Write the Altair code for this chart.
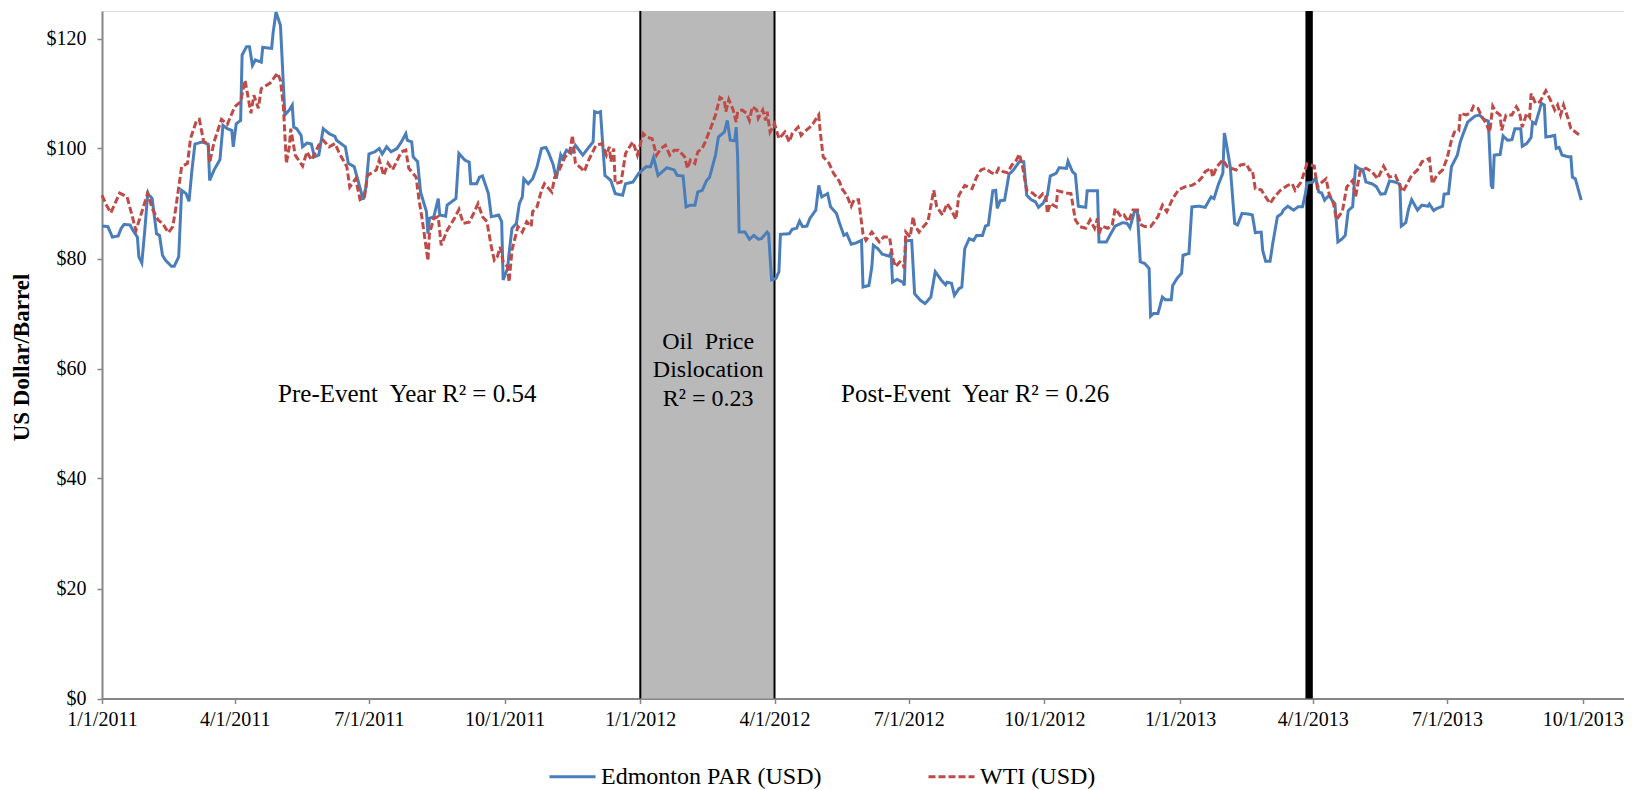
import altair as alt
import pandas as pd

FONT = "Liberation Serif"
SERIES = ["Edmonton PAR (USD)", "WTI (USD)"]
COLORS = ["#4A7EBB", "#BE4B48"]

# (date, US$/barrel)
EDMONTON = [
    ("2011-01-01", 85.9), ("2011-01-05", 85.8), ("2011-01-08", 83.9), ("2011-01-12", 84.1), ("2011-01-14", 85.5),
    ("2011-01-16", 86.2), ("2011-01-20", 86.1), ("2011-01-22", 85.1), ("2011-01-25", 83.9), ("2011-01-26", 80.3),
    ("2011-01-28", 79.2), ("2011-01-30", 85.1), ("2011-02-01", 91.8), ("2011-02-04", 90.9), ("2011-02-07", 84.5),
    ("2011-02-09", 84.2), ("2011-02-11", 80.6), ("2011-02-13", 79.7), ("2011-02-17", 78.6), ("2011-02-19", 78.6),
    ("2011-02-22", 80.3), ("2011-02-24", 92.4), ("2011-02-27", 91.8), ("2011-03-01", 90.4), ("2011-03-03", 96.1),
    ("2011-03-05", 100.8), ("2011-03-10", 101.2), ("2011-03-14", 100.8), ("2011-03-15", 94.2), ("2011-03-18", 96.1),
    ("2011-03-22", 98.0), ("2011-03-24", 104.2), ("2011-03-27", 103.6), ("2011-03-30", 103.3), ("2011-03-31", 100.3),
    ("2011-04-02", 104.5), ("2011-04-05", 105.1), ("2011-04-06", 117.0), ("2011-04-09", 118.5), ("2011-04-11", 118.5),
    ("2011-04-13", 115.1), ("2011-04-15", 116.1), ("2011-04-19", 115.7), ("2011-04-20", 118.4), ("2011-04-26", 118.2),
    ("2011-04-27", 121.0), ("2011-04-29", 124.8), ("2011-05-02", 122.4), ("2011-05-05", 106.1), ("2011-05-08", 107.0),
    ("2011-05-10", 107.9), ("2011-05-11", 103.9), ("2011-05-13", 103.6), ("2011-05-16", 102.4), ("2011-05-17", 100.3),
    ("2011-05-20", 101.0), ("2011-05-23", 100.8), ("2011-05-25", 98.5), ("2011-05-28", 98.8), ("2011-05-31", 103.6),
    ("2011-06-04", 102.7), ("2011-06-08", 102.2), ("2011-06-09", 101.5), ("2011-06-12", 100.9), ("2011-06-15", 100.3),
    ("2011-06-17", 97.3), ("2011-06-21", 96.7), ("2011-06-26", 91.8), ("2011-06-27", 90.7), ("2011-06-29", 93.0),
    ("2011-07-01", 99.0), ("2011-07-05", 99.4), ("2011-07-08", 100.0), ("2011-07-10", 99.0), ("2011-07-13", 100.3),
    ("2011-07-16", 99.4), ("2011-07-20", 100.0), ("2011-07-23", 101.2), ("2011-07-26", 102.7), ("2011-07-27", 101.5),
    ("2011-07-30", 101.2), ("2011-07-31", 98.5), ("2011-08-03", 97.6), ("2011-08-05", 92.1), ("2011-08-09", 88.5),
    ("2011-08-10", 84.5), ("2011-08-11", 87.3), ("2011-08-14", 87.6), ("2011-08-17", 90.9), ("2011-08-18", 87.9),
    ("2011-08-22", 87.7), ("2011-08-23", 89.7), ("2011-08-29", 90.9), ("2011-08-31", 99.1), ("2011-09-04", 97.9),
    ("2011-09-07", 97.5), ("2011-09-08", 93.6), ("2011-09-12", 93.6), ("2011-09-14", 94.8), ("2011-09-16", 95.0),
    ("2011-09-20", 91.8), ("2011-09-22", 87.6), ("2011-09-27", 87.9), ("2011-09-29", 86.7), ("2011-09-30", 76.1),
    ("2011-10-03", 78.2), ("2011-10-04", 80.9), ("2011-10-06", 85.5), ("2011-10-09", 86.4), ("2011-10-11", 90.0),
    ("2011-10-13", 91.2), ("2011-10-14", 94.5), ("2011-10-17", 93.6), ("2011-10-20", 94.5), ("2011-10-23", 96.7),
    ("2011-10-26", 100.0), ("2011-10-29", 100.2), ("2011-10-31", 99.1), ("2011-11-03", 97.0), ("2011-11-05", 94.5),
    ("2011-11-08", 98.8), ("2011-11-09", 98.2), ("2011-11-12", 99.7), ("2011-11-15", 99.1), ("2011-11-18", 100.6),
    ("2011-11-23", 98.8), ("2011-11-27", 100.2), ("2011-11-30", 101.2), ("2011-12-01", 106.7), ("2011-12-03", 106.5),
    ("2011-12-05", 106.7), ("2011-12-08", 95.1), ("2011-12-12", 94.2), ("2011-12-15", 91.8), ("2011-12-20", 91.5),
    ("2011-12-22", 93.6), ("2011-12-27", 93.9), ("2011-12-31", 95.5),
    ("2012-01-05", 96.7), ("2012-01-08", 96.7), ("2012-01-10", 98.4), ("2012-01-13", 95.1), ("2012-01-19", 96.5),
    ("2012-01-24", 96.1), ("2012-01-26", 95.1), ("2012-01-30", 95.0), ("2012-02-01", 89.4), ("2012-02-04", 89.7),
    ("2012-02-07", 89.7), ("2012-02-09", 92.1), ("2012-02-12", 92.4), ("2012-02-15", 94.2), ("2012-02-17", 94.8),
    ("2012-02-21", 98.8), ("2012-02-23", 102.1), ("2012-02-27", 103.0), ("2012-02-29", 105.1), ("2012-03-02", 101.5),
    ("2012-03-05", 101.4), ("2012-03-06", 103.9), ("2012-03-07", 98.5), ("2012-03-08", 84.8), ("2012-03-12", 84.8),
    ("2012-03-15", 83.5), ("2012-03-18", 84.2), ("2012-03-21", 83.5), ("2012-03-23", 83.6), ("2012-03-27", 84.8),
    ("2012-03-28", 84.5), ("2012-03-30", 76.1), ("2012-04-02", 76.4), ("2012-04-04", 77.6), ("2012-04-05", 84.4),
    ("2012-04-11", 84.5), ("2012-04-13", 85.3), ("2012-04-16", 85.5), ("2012-04-18", 86.8), ("2012-04-20", 85.8),
    ("2012-04-23", 85.9), ("2012-04-25", 87.3), ("2012-04-29", 88.8), ("2012-05-01", 93.3), ("2012-05-03", 91.2),
    ("2012-05-07", 91.8), ("2012-05-09", 89.4), ("2012-05-13", 88.2), ("2012-05-15", 86.5), ("2012-05-18", 84.2),
    ("2012-05-20", 84.5), ("2012-05-23", 82.6), ("2012-05-26", 82.8), ("2012-05-30", 83.3), ("2012-05-31", 74.8),
    ("2012-06-04", 75.1), ("2012-06-06", 78.5), ("2012-06-07", 82.4), ("2012-06-10", 81.8), ("2012-06-13", 80.8),
    ("2012-06-18", 80.4), ("2012-06-19", 81.2), ("2012-06-20", 75.7), ("2012-06-23", 76.2), ("2012-06-27", 75.7),
    ("2012-06-28", 75.1), ("2012-06-29", 83.2), ("2012-07-03", 83.3), ("2012-07-05", 73.6), ("2012-07-09", 72.4),
    ("2012-07-12", 71.8), ("2012-07-16", 73.0), ("2012-07-19", 77.6), ("2012-07-23", 76.1), ("2012-07-26", 75.2),
    ("2012-07-27", 75.7), ("2012-07-30", 75.5), ("2012-08-01", 73.3), ("2012-08-04", 74.5), ("2012-08-06", 74.8),
    ("2012-08-08", 81.8), ("2012-08-11", 83.6), ("2012-08-14", 83.3), ("2012-08-16", 84.2), ("2012-08-20", 84.2),
    ("2012-08-22", 85.9), ("2012-08-24", 86.1), ("2012-08-27", 92.3), ("2012-08-29", 92.4), ("2012-08-30", 89.1),
    ("2012-09-01", 90.5), ("2012-09-04", 90.6), ("2012-09-07", 95.3), ("2012-09-10", 96.1), ("2012-09-14", 97.6),
    ("2012-09-17", 97.6), ("2012-09-19", 91.5), ("2012-09-22", 90.7), ("2012-09-25", 90.3), ("2012-09-27", 89.3),
    ("2012-09-30", 90.0), ("2012-10-03", 91.5), ("2012-10-05", 95.0), ("2012-10-09", 95.5), ("2012-10-11", 96.5),
    ("2012-10-16", 96.4), ("2012-10-17", 97.7), ("2012-10-20", 95.8), ("2012-10-22", 95.3), ("2012-10-24", 89.5),
    ("2012-10-29", 89.3), ("2012-10-30", 92.3), ("2012-11-06", 92.3), ("2012-11-07", 83.0), ("2012-11-12", 83.0),
    ("2012-11-15", 84.5), ("2012-11-18", 85.9), ("2012-11-23", 86.5), ("2012-11-26", 86.4), ("2012-11-28", 85.6),
    ("2012-12-01", 88.5), ("2012-12-03", 88.7), ("2012-12-05", 79.4), ("2012-12-08", 79.1), ("2012-12-11", 78.2),
    ("2012-12-12", 69.5), ("2012-12-14", 70.0), ("2012-12-17", 70.0), ("2012-12-20", 73.0), ("2012-12-22", 72.5),
    ("2012-12-26", 72.5), ("2012-12-27", 75.1), ("2012-12-30", 76.4),
    ("2013-01-02", 77.3), ("2013-01-03", 80.6), ("2013-01-07", 80.9), ("2013-01-09", 89.4), ("2013-01-14", 89.5),
    ("2013-01-18", 89.3), ("2013-01-22", 91.2), ("2013-01-24", 90.9), ("2013-01-27", 93.5), ("2013-01-30", 95.5),
    ("2013-01-31", 102.8), ("2013-02-01", 101.5), ("2013-02-04", 96.7), ("2013-02-07", 86.4), ("2013-02-09", 86.1),
    ("2013-02-12", 88.2), ("2013-02-16", 88.1), ("2013-02-19", 87.9), ("2013-02-21", 84.7), ("2013-02-25", 84.8),
    ("2013-02-26", 81.5), ("2013-02-28", 79.5), ("2013-03-03", 79.5), ("2013-03-05", 83.0), ("2013-03-08", 87.6),
    ("2013-03-11", 88.2), ("2013-03-12", 88.8), ("2013-03-15", 89.5), ("2013-03-19", 88.8), ("2013-03-22", 89.4),
    ("2013-03-25", 89.4), ("2013-03-27", 91.8), ("2013-03-28", 93.7), ("2013-04-01", 93.9), ("2013-04-03", 94.7),
    ("2013-04-05", 92.1), ("2013-04-07", 91.9), ("2013-04-09", 90.6), ("2013-04-12", 91.5), ("2013-04-14", 90.6),
    ("2013-04-16", 90.0), ("2013-04-18", 83.0), ("2013-04-21", 83.6), ("2013-04-23", 84.2), ("2013-04-25", 88.7),
    ("2013-04-28", 89.4), ("2013-04-30", 96.8), ("2013-05-02", 96.4), ("2013-05-05", 96.1), ("2013-05-07", 93.9),
    ("2013-05-11", 93.6), ("2013-05-14", 93.1), ("2013-05-17", 91.7), ("2013-05-20", 91.8), ("2013-05-23", 94.1),
    ("2013-05-27", 93.9), ("2013-05-30", 93.5), ("2013-05-31", 85.9), ("2013-06-03", 86.5), ("2013-06-05", 89.1),
    ("2013-06-07", 90.7), ("2013-06-11", 88.8), ("2013-06-14", 89.7), ("2013-06-18", 89.5), ("2013-06-19", 89.9),
    ("2013-06-22", 88.7), ("2013-06-24", 89.1), ("2013-06-28", 89.5), ("2013-06-29", 91.7), ("2013-07-02", 91.8),
    ("2013-07-04", 96.7), ("2013-07-08", 98.8), ("2013-07-10", 101.2), ("2013-07-12", 102.7), ("2013-07-15", 104.8),
    ("2013-07-20", 105.9), ("2013-07-23", 106.1), ("2013-07-26", 105.3), ("2013-07-29", 105.0), ("2013-07-31", 93.3),
    ("2013-08-01", 92.7), ("2013-08-02", 98.8), ("2013-08-06", 98.9), ("2013-08-08", 102.3), ("2013-08-11", 101.5),
    ("2013-08-14", 101.6), ("2013-08-16", 103.6), ("2013-08-20", 103.6), ("2013-08-21", 100.4), ("2013-08-24", 100.9),
    ("2013-08-27", 102.0), ("2013-08-28", 104.8), ("2013-08-30", 104.5), ("2013-09-03", 108.2), ("2013-09-05", 107.9),
    ("2013-09-06", 102.1), ("2013-09-09", 102.2), ("2013-09-12", 102.4), ("2013-09-13", 100.0), ("2013-09-15", 100.2),
    ("2013-09-17", 98.8), ("2013-09-21", 98.5), ("2013-09-23", 98.5), ("2013-09-24", 94.8), ("2013-09-26", 94.5),
    ("2013-09-30", 90.6),
]

WTI = [
    ("2011-01-01", 91.5), ("2011-01-04", 89.7), ("2011-01-07", 88.3), ("2011-01-13", 91.9), ("2011-01-18", 91.2),
    ("2011-01-21", 88.2), ("2011-01-24", 85.1), ("2011-01-27", 87.6), ("2011-02-01", 91.9), ("2011-02-04", 89.1),
    ("2011-02-08", 87.0), ("2011-02-11", 86.4), ("2011-02-15", 84.7), ("2011-02-18", 85.8), ("2011-02-20", 89.1),
    ("2011-02-24", 96.7), ("2011-02-28", 97.3), ("2011-03-02", 101.8), ("2011-03-06", 105.0), ("2011-03-08", 105.3),
    ("2011-03-11", 101.2), ("2011-03-14", 100.9), ("2011-03-15", 97.4), ("2011-03-18", 101.2), ("2011-03-23", 105.3),
    ("2011-03-27", 104.4), ("2011-04-01", 107.6), ("2011-04-05", 108.5), ("2011-04-08", 112.4), ("2011-04-12", 106.4),
    ("2011-04-14", 109.7), ("2011-04-17", 107.3), ("2011-04-19", 110.9), ("2011-04-25", 111.9), ("2011-04-30", 113.7),
    ("2011-05-02", 112.4), ("2011-05-04", 107.6), ("2011-05-06", 97.3), ("2011-05-08", 100.3), ("2011-05-09", 103.6),
    ("2011-05-12", 98.8), ("2011-05-17", 96.8), ("2011-05-20", 99.4), ("2011-05-23", 97.9), ("2011-05-28", 100.6),
    ("2011-05-31", 101.5), ("2011-06-04", 100.3), ("2011-06-08", 100.9), ("2011-06-11", 99.1), ("2011-06-16", 96.7),
    ("2011-06-18", 93.0), ("2011-06-22", 94.5), ("2011-06-25", 90.7), ("2011-06-28", 91.2), ("2011-06-30", 95.1),
    ("2011-07-06", 96.1), ("2011-07-08", 97.9), ("2011-07-11", 95.1), ("2011-07-14", 97.3), ("2011-07-17", 96.1),
    ("2011-07-23", 99.4), ("2011-07-26", 99.7), ("2011-07-28", 96.4), ("2011-08-02", 94.8), ("2011-08-04", 90.6),
    ("2011-08-06", 87.3), ("2011-08-10", 79.6), ("2011-08-11", 84.5), ("2011-08-14", 87.3), ("2011-08-17", 87.6),
    ("2011-08-19", 82.4), ("2011-08-23", 85.1), ("2011-08-28", 87.3), ("2011-08-31", 88.9), ("2011-09-03", 86.4),
    ("2011-09-07", 86.6), ("2011-09-10", 88.2), ("2011-09-13", 90.0), ("2011-09-16", 87.6), ("2011-09-19", 86.7),
    ("2011-09-22", 82.1), ("2011-09-24", 79.7), ("2011-09-26", 80.3), ("2011-09-28", 82.1), ("2011-09-30", 79.4),
    ("2011-10-03", 78.5), ("2011-10-04", 75.7), ("2011-10-06", 81.5), ("2011-10-10", 85.8), ("2011-10-13", 84.8),
    ("2011-10-16", 86.7), ("2011-10-19", 85.8), ("2011-10-20", 88.5), ("2011-10-23", 89.4), ("2011-10-26", 92.4),
    ("2011-10-28", 93.6), ("2011-11-02", 92.1), ("2011-11-04", 94.8), ("2011-11-07", 96.1), ("2011-11-11", 98.5),
    ("2011-11-14", 99.1), ("2011-11-16", 102.4), ("2011-11-18", 97.3), ("2011-11-22", 96.4), ("2011-11-24", 95.8),
    ("2011-11-27", 97.9), ("2011-12-02", 100.6), ("2011-12-06", 100.9), ("2011-12-09", 98.8), ("2011-12-11", 100.3),
    ("2011-12-12", 97.6), ("2011-12-14", 100.0), ("2011-12-15", 93.6), ("2011-12-19", 93.9), ("2011-12-22", 99.1),
    ("2011-12-24", 100.0), ("2011-12-27", 101.2), ("2011-12-30", 98.8),
    ("2012-01-03", 102.7), ("2012-01-05", 102.1), ("2012-01-09", 101.8), ("2012-01-12", 98.8), ("2012-01-15", 100.0),
    ("2012-01-18", 100.6), ("2012-01-21", 98.8), ("2012-01-24", 99.7), ("2012-01-27", 99.7), ("2012-01-31", 98.5),
    ("2012-02-02", 96.4), ("2012-02-04", 97.9), ("2012-02-07", 97.3), ("2012-02-09", 99.4), ("2012-02-12", 100.0),
    ("2012-02-14", 101.2), ("2012-02-18", 103.9), ("2012-02-21", 106.1), ("2012-02-24", 109.3), ("2012-02-27", 108.8),
    ("2012-02-28", 106.7), ("2012-03-01", 108.9), ("2012-03-04", 107.0), ("2012-03-06", 104.8), ("2012-03-07", 106.7),
    ("2012-03-10", 107.0), ("2012-03-13", 106.4), ("2012-03-15", 105.1), ("2012-03-17", 107.6), ("2012-03-20", 107.0),
    ("2012-03-21", 105.5), ("2012-03-24", 107.0), ("2012-03-26", 105.1), ("2012-03-27", 106.7), ("2012-03-29", 103.0),
    ("2012-04-01", 104.5), ("2012-04-04", 101.8), ("2012-04-08", 103.0), ("2012-04-11", 101.2), ("2012-04-13", 102.7),
    ("2012-04-17", 103.9), ("2012-04-19", 102.4), ("2012-04-21", 103.0), ("2012-04-25", 103.9), ("2012-04-27", 104.5),
    ("2012-05-01", 106.1), ("2012-05-02", 103.0), ("2012-05-04", 98.5), ("2012-05-08", 97.3), ("2012-05-11", 95.5),
    ("2012-05-15", 94.0), ("2012-05-17", 92.6), ("2012-05-20", 91.5), ("2012-05-23", 89.5), ("2012-05-25", 90.7),
    ("2012-05-28", 90.7), ("2012-05-31", 84.5), ("2012-06-02", 83.3), ("2012-06-06", 84.8), ("2012-06-11", 83.0),
    ("2012-06-14", 83.9), ("2012-06-18", 83.9), ("2012-06-20", 80.3), ("2012-06-22", 78.5), ("2012-06-25", 79.4),
    ("2012-06-27", 79.1), ("2012-06-28", 78.2), ("2012-06-29", 84.8), ("2012-07-02", 83.9), ("2012-07-04", 87.6),
    ("2012-07-05", 86.1), ("2012-07-08", 84.8), ("2012-07-10", 85.5), ("2012-07-14", 86.7), ("2012-07-18", 92.4),
    ("2012-07-20", 89.4), ("2012-07-24", 87.9), ("2012-07-27", 90.0), ("2012-07-30", 88.8), ("2012-08-02", 87.1),
    ("2012-08-04", 91.5), ("2012-08-08", 93.3), ("2012-08-11", 92.9), ("2012-08-13", 92.7), ("2012-08-16", 94.8),
    ("2012-08-19", 96.1), ("2012-08-22", 96.4), ("2012-08-26", 95.6), ("2012-08-29", 95.3), ("2012-08-31", 96.4),
    ("2012-09-03", 95.8), ("2012-09-06", 95.6), ("2012-09-09", 97.0), ("2012-09-12", 97.9), ("2012-09-14", 99.0),
    ("2012-09-16", 97.0), ("2012-09-19", 92.4), ("2012-09-23", 91.9), ("2012-09-27", 90.9), ("2012-09-30", 91.8),
    ("2012-10-02", 91.5), ("2012-10-03", 88.2), ("2012-10-05", 90.0), ("2012-10-09", 89.4), ("2012-10-10", 92.3),
    ("2012-10-16", 91.9), ("2012-10-19", 91.8), ("2012-10-22", 87.0), ("2012-10-25", 85.8), ("2012-10-29", 85.5),
    ("2012-11-01", 87.0), ("2012-11-04", 85.5), ("2012-11-06", 87.3), ("2012-11-07", 84.5), ("2012-11-09", 85.9),
    ("2012-11-13", 85.5), ("2012-11-16", 86.1), ("2012-11-18", 89.1), ("2012-11-22", 87.6), ("2012-11-24", 87.9),
    ("2012-11-27", 86.7), ("2012-11-30", 88.8), ("2012-12-03", 88.8), ("2012-12-05", 86.2), ("2012-12-08", 85.8),
    ("2012-12-12", 85.8), ("2012-12-17", 87.6), ("2012-12-20", 89.7), ("2012-12-23", 88.5), ("2012-12-27", 90.9),
    ("2012-12-31", 92.5),
    ("2013-01-05", 93.1), ("2013-01-09", 93.3), ("2013-01-13", 93.9), ("2013-01-16", 94.8), ("2013-01-18", 95.8),
    ("2013-01-22", 96.4), ("2013-01-23", 94.8), ("2013-01-26", 96.7), ("2013-01-30", 97.9), ("2013-02-02", 96.7),
    ("2013-02-05", 96.4), ("2013-02-08", 96.1), ("2013-02-11", 97.0), ("2013-02-15", 97.2), ("2013-02-17", 96.1),
    ("2013-02-19", 96.1), ("2013-02-21", 92.7), ("2013-02-25", 92.5), ("2013-02-28", 91.2), ("2013-03-03", 90.0),
    ("2013-03-06", 91.2), ("2013-03-10", 92.4), ("2013-03-15", 93.3), ("2013-03-18", 93.6), ("2013-03-20", 92.4),
    ("2013-03-24", 93.9), ("2013-03-26", 95.5), ("2013-03-28", 97.2), ("2013-04-02", 96.8), ("2013-04-04", 93.0),
    ("2013-04-06", 93.6), ("2013-04-10", 94.5), ("2013-04-12", 91.8), ("2013-04-15", 90.0), ("2013-04-17", 87.1),
    ("2013-04-21", 88.5), ("2013-04-24", 93.0), ("2013-04-28", 94.2), ("2013-04-30", 91.2), ("2013-05-03", 95.8),
    ("2013-05-07", 96.4), ("2013-05-11", 95.8), ("2013-05-15", 94.5), ("2013-05-19", 96.8), ("2013-05-23", 94.8),
    ("2013-05-27", 95.1), ("2013-05-30", 93.3), ("2013-06-01", 92.1), ("2013-06-04", 93.6), ("2013-06-07", 95.1),
    ("2013-06-11", 96.1), ("2013-06-14", 97.6), ("2013-06-19", 98.2), ("2013-06-21", 93.6), ("2013-06-24", 95.1),
    ("2013-06-28", 96.1), ("2013-07-01", 98.2), ("2013-07-04", 101.5), ("2013-07-06", 103.0), ("2013-07-09", 103.2),
    ("2013-07-10", 106.4), ("2013-07-14", 106.1), ("2013-07-17", 106.5), ("2013-07-19", 107.7), ("2013-07-22", 107.3),
    ("2013-07-24", 106.1), ("2013-07-27", 104.8), ("2013-07-30", 103.0), ("2013-08-01", 107.7), ("2013-08-03", 106.7),
    ("2013-08-06", 106.1), ("2013-08-07", 103.3), ("2013-08-10", 106.1), ("2013-08-14", 106.1), ("2013-08-17", 107.6),
    ("2013-08-19", 106.7), ("2013-08-21", 103.9), ("2013-08-24", 106.4), ("2013-08-26", 105.7), ("2013-08-27", 110.0),
    ("2013-08-30", 108.2), ("2013-09-02", 108.5), ("2013-09-06", 110.5), ("2013-09-09", 108.9), ("2013-09-12", 107.0),
    ("2013-09-14", 107.9), ("2013-09-16", 106.1), ("2013-09-18", 107.9), ("2013-09-21", 105.5), ("2013-09-23", 103.6),
    ("2013-09-26", 103.0), ("2013-09-30", 102.2),
]

# shaded "oil price dislocation" window and the black event marker
BAND_START, BAND_END = "2012-01-01", "2012-04-01"
MARKER_START, MARKER_END = "2013-03-27", "2013-04-01"

NB = "\u00a0"
ANNOT_TEXT = ["Pre-Event" + NB + " Year R\u00b2 = 0.54", "Oil" + NB + " Price", "Dislocation", "R\u00b2 = 0.23",
              "Post-Event" + NB + " Year R\u00b2 = 0.26"]
ANNOT_DATE = ["2011-07-27", "2012-02-16", "2012-02-16", "2012-02-16", "2012-08-15"]
ANNOT_VALUE = [55.3, 64.8, 59.7, 54.4, 55.3]
ANNOT_SIZE = [25, 24, 24, 24, 25]

Y_TICKS = [0, 20, 40, 60, 80, 100, 120]
X_TICKS = [(2011, 1), (2011, 4), (2011, 7), (2011, 10), (2012, 1), (2012, 4), (2012, 7), (2012, 10),
           (2013, 1), (2013, 4), (2013, 7), (2013, 10)]

rows = []
for name, series in zip(SERIES, [EDMONTON, WTI]):
    for i, (d, v) in enumerate(series):
        rows.append({"date": d, "price": v, "series": name, "idx": i})
df = pd.DataFrame(rows)

band_df = pd.DataFrame({"date": [BAND_START], "date2": [BAND_END], "lo": [0], "hi": [125]})
edge_df = pd.DataFrame({"date": [BAND_START, BAND_END]})
marker_df = pd.DataFrame({"date": [MARKER_START], "date2": [MARKER_END], "lo": [0], "hi": [125]})
annot_df = pd.DataFrame({"date": ANNOT_DATE, "price": ANNOT_VALUE, "text": ANNOT_TEXT, "size": ANNOT_SIZE})

GRAY = "#868686"
x_scale = alt.Scale(type="utc", domain=[alt.DateTime(year=2011, month=1, date=1, utc=True),
                                        alt.DateTime(year=2013, month=10, date=29, utc=True)])
y_scale = alt.Scale(domain=[0, 125], nice=False, zero=True)

x_axis = alt.Axis(values=[alt.DateTime(year=y, month=m, date=1, utc=True) for y, m in X_TICKS],
                  format="%-m/%-d/%Y", title=None, grid=False, labelFont=FONT, labelFontSize=20,
                  labelColor="black", domainColor=GRAY, domainWidth=2, tickColor=GRAY, tickWidth=1.5,
                  tickSize=5, labelPadding=6, labelOverlap=False, labelFlush=False)
y_axis = alt.Axis(values=Y_TICKS, format="$.0f", title="US Dollar/Barrel", grid=False, labelFont=FONT,
                  labelFontSize=20, labelColor="black", domainColor=GRAY, domainWidth=2, tickColor=GRAY,
                  tickWidth=1.5, tickSize=5, labelPadding=11, titleFont=FONT, titleFontSize=23,
                  titleFontWeight="bold", titleColor="black", titleAngle=270, titleAlign="center",
                  titleBaseline="middle", titleX=-81, titleY=346)

X = alt.X("date:T", scale=x_scale, axis=x_axis)
Y = alt.Y("price:Q", scale=y_scale, axis=y_axis)

band = alt.Chart(band_df).mark_rect(color="#b9b9b9").encode(
    x=X, x2="date2:T", y=alt.Y("lo:Q", scale=y_scale, axis=y_axis), y2="hi:Q")
edges = alt.Chart(edge_df).mark_rule(color="black", strokeWidth=2).encode(x=X)
marker = alt.Chart(marker_df).mark_rect(color="black").encode(
    x=X, x2="date2:T", y=alt.Y("lo:Q", scale=y_scale, axis=y_axis), y2="hi:Q")

legend = alt.Legend(title=None, orient="none", legendX=446, legendY=741, direction="horizontal",
                    symbolType="stroke", symbolSize=2116, symbolStrokeWidth=3, labelFont=FONT,
                    labelFontSize=24, labelColor="black", labelOffset=4, labelLimit=600,
                    columnPadding=100, padding=0)

lines = alt.Chart(df).mark_line(strokeWidth=3).encode(
    x=X, y=Y,
    color=alt.Color("series:N", scale=alt.Scale(domain=SERIES, range=COLORS), legend=legend),
    strokeDash=alt.StrokeDash("series:N", scale=alt.Scale(domain=SERIES, range=[[1, 0], [7, 3]]),
                              legend=legend),
    order="idx:Q",
)

annot = alt.Chart(annot_df).mark_text(font=FONT, color="black", align="center", baseline="middle").encode(
    x=X, y=Y, text="text:N", size=alt.Size("size:Q", scale=None, legend=None))

chart = alt.layer(band, edges, marker, lines, annot).properties(
    width=1522, height=687.5,
    autosize=alt.AutoSizeParams(type="none"),
    padding={"left": 94, "top": 3, "right": 0, "bottom": 92},
).configure_view(stroke=None).configure(background="white")

chart.save("out.html", embed_options={"renderer": "svg", "actions": False})
